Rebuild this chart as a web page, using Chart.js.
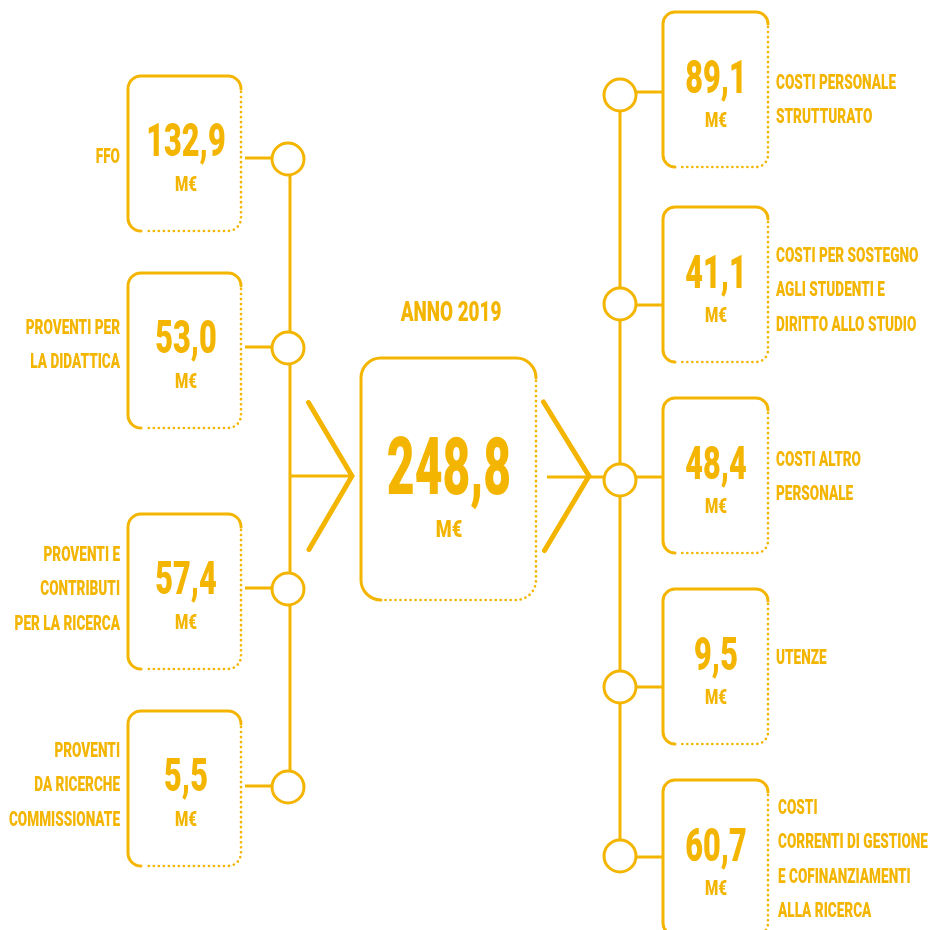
<!DOCTYPE html>
<html>
<head>
<meta charset="utf-8">
<script src="https://cdn.jsdelivr.net/npm/chart.js@4/dist/chart.umd.min.js"></script>
<style>
  html, body { margin: 0; padding: 0; background: #ffffff; }
  #wrap { width: 932px; height: 930px; position: relative; }
</style>
</head>
<body>
<div id="wrap"><canvas id="c"></canvas></div>
<script>
// ---------- DATA ----------
const yearLabel = "ANNO 2019";
const unitLabel = "M€";
const totalValue = 248.8;
const incomeLabels = [
  ["FFO"],
  ["PROVENTI PER", "LA DIDATTICA"],
  ["PROVENTI E", "CONTRIBUTI", "PER LA RICERCA"],
  ["PROVENTI", "DA RICERCHE", "COMMISSIONATE"]
];
const incomeValues = [132.9, 53.0, 57.4, 5.5];
const costLabels = [
  ["COSTI PERSONALE", "STRUTTURATO"],
  ["COSTI PER SOSTEGNO", "AGLI STUDENTI E", "DIRITTO ALLO STUDIO"],
  ["COSTI ALTRO", "PERSONALE"],
  ["UTENZE"],
  ["COSTI", "CORRENTI DI GESTIONE", "E COFINANZIAMENTI", "ALLA RICERCA"]
];
const costValues = [89.1, 41.1, 48.4, 9.5, 60.7];

// ---------- LAYOUT (positions & styles) ----------
const YELLOW = "#F3B500";
const FONT = "Roboto";
const WEIGHT = 900;
const leftLayout = {
  boxL: 128, boxR: 241, boxH: 155, radius: 13,
  boxTops: [76, 273, 514, 711],
  spineX: 290, circleX: 288,
  circleYs: [159, 348, 589, 787],
  labelX: 120, labelYs: [155, 326, 553, 749],
  textX: 186
};
const rightLayout = {
  boxL: 663, boxR: 768, boxH: 155, radius: 12,
  boxTops: [12, 207, 398, 589, 780],
  spineX: 620, circleX: 620,
  circleYs: [95, 304, 480, 687, 856],
  connYs: [92, 305, 477, 687, 857],
  labelXs: [776, 776, 776, 776, 778], labelYs: [81, 254, 458, 656, 806],
  textX: 716
};
const centerLayout = { L: 361, R: 536, T: 358, B: 600, radius: 20, cx: 449, valueY: 466, unitY: 528, yearY: 311, yearX: 451 };
const lineGap = 34.5;

const fmt = v => v.toFixed(1).replace(".", ",");

function lineDs(points, width, extra) {
  return Object.assign({
    type: "line", data: points, showLine: true, borderColor: YELLOW, borderWidth: width,
    pointRadius: 0, fill: false, tension: 0, order: 2, clip: false
  }, extra || {});
}

const datasets = [];
// circles
const circlePts = leftLayout.circleYs.map(y => ({ x: leftLayout.circleX, y }))
  .concat(rightLayout.circleYs.map(y => ({ x: rightLayout.circleX, y })));
datasets.push({
  type: "scatter", data: circlePts, pointRadius: 16, pointHoverRadius: 16,
  pointBackgroundColor: "#ffffff", pointBorderColor: YELLOW, pointBorderWidth: 3,
  order: 0, clip: false
});
// spines
datasets.push(lineDs([{ x: leftLayout.spineX, y: leftLayout.circleYs[0] }, { x: leftLayout.spineX, y: leftLayout.circleYs[leftLayout.circleYs.length - 1] }], 3));
datasets.push(lineDs([{ x: rightLayout.spineX, y: rightLayout.circleYs[0] }, { x: rightLayout.spineX, y: rightLayout.circleYs[rightLayout.circleYs.length - 1] }], 3));
// connectors
incomeValues.forEach((v, i) => {
  const y = leftLayout.circleYs[i] - 1;
  datasets.push(lineDs([{ x: leftLayout.boxR + 4, y }, { x: leftLayout.circleX, y }], 3));
});
costValues.forEach((v, i) => {
  const y = rightLayout.connYs[i];
  datasets.push(lineDs([{ x: rightLayout.circleX, y }, { x: rightLayout.boxL, y }], 3));
});
// flow into / out of the total
datasets.push(lineDs([{ x: leftLayout.spineX, y: 476 }, { x: 352, y: 476 }], 3));
datasets.push(lineDs([{ x: 547, y: 477 }, { x: rightLayout.circleX, y: 477 }], 3));
// chevrons
datasets.push(lineDs([{ x: 308.5, y: 402.5 }, { x: 352, y: 476 }, { x: 309, y: 549.5 }], 5, { borderCapStyle: "round", borderJoinStyle: "miter" }));
datasets.push(lineDs([{ x: 543.5, y: 402 }, { x: 589, y: 476 }, { x: 544.5, y: 550.5 }], 5, { borderCapStyle: "round", borderJoinStyle: "miter" }));

function drawText(ctx, s, x, y, cap, sx, align) {
  const size = cap / 0.711;
  ctx.save();
  ctx.font = WEIGHT + " " + size + "px " + FONT;
  ctx.fillStyle = YELLOW;
  ctx.textAlign = align;
  ctx.textBaseline = "alphabetic";
  ctx.translate(x, y + cap / 2);
  ctx.scale(sx, 1);
  ctx.fillText(s, 0, 0);
  ctx.restore();
}

function drawBox(ctx, L, R, T, B, r) {
  ctx.save();
  ctx.strokeStyle = YELLOW;
  ctx.lineWidth = 3;
  ctx.lineCap = "round";
  ctx.beginPath();
  ctx.moveTo(R, T + r);
  ctx.arcTo(R, T, R - r, T, r);
  ctx.lineTo(L + r, T);
  ctx.arcTo(L, T, L, T + r, r);
  ctx.lineTo(L, B - r);
  ctx.arcTo(L, B, L + r, B, r);
  ctx.stroke();
  ctx.lineWidth = 2.7;
  ctx.setLineDash([0.01, 5]);
  ctx.beginPath();
  ctx.moveTo(R, T + r + 3);
  ctx.lineTo(R, B - r);
  ctx.arcTo(R, B, R - r, B, r);
  ctx.lineTo(L + r + 3, B);
  ctx.stroke();
  ctx.restore();
}

const infoPlugin = {
  id: "info",
  afterDatasetsDraw(chart) {
    const ctx = chart.ctx;
    const xs = chart.scales.x, ys = chart.scales.y;
    const px = v => xs.getPixelForValue(v);
    const py = v => ys.getPixelForValue(v);
    // income boxes
    incomeValues.forEach((v, i) => {
      const T = leftLayout.boxTops[i];
      drawBox(ctx, px(leftLayout.boxL), px(leftLayout.boxR), py(T), py(T + leftLayout.boxH), leftLayout.radius);
      drawText(ctx, fmt(v), px(leftLayout.textX), py(T + 63), 33, 0.66, "center");
      drawText(ctx, unitLabel, px(leftLayout.textX), py(T + 107), 15, 0.72, "center");
      incomeLabels[i].forEach((ln, k) => {
        drawText(ctx, ln, px(leftLayout.labelX), py(leftLayout.labelYs[i] + k * lineGap), 15, 0.645, "right");
      });
    });
    // cost boxes
    costValues.forEach((v, i) => {
      const T = rightLayout.boxTops[i];
      drawBox(ctx, px(rightLayout.boxL), px(rightLayout.boxR), py(T), py(T + rightLayout.boxH), rightLayout.radius);
      drawText(ctx, fmt(v), px(rightLayout.textX), py(T + 64), 33, 0.66, "center");
      drawText(ctx, unitLabel, px(rightLayout.textX), py(T + 107), 15, 0.72, "center");
      costLabels[i].forEach((ln, k) => {
        drawText(ctx, ln, px(rightLayout.labelXs[i]), py(rightLayout.labelYs[i] + k * lineGap), 15, 0.645, "left");
      });
    });
    // total
    const c = centerLayout;
    drawBox(ctx, px(c.L), px(c.R), py(c.T), py(c.B), c.radius);
    drawText(ctx, fmt(totalValue), px(c.cx), py(c.valueY), 56, 0.61, "center");
    drawText(ctx, unitLabel, px(c.cx), py(c.unitY), 17, 0.76, "center");
    drawText(ctx, yearLabel, px(c.yearX), py(c.yearY), 20, 0.67, "center");
  }
};

new Chart(document.getElementById("c"), {
  type: "scatter",
  data: { datasets },
  options: {
    responsive: true,
    maintainAspectRatio: false,
    animation: false,
    events: [],
    layout: { padding: 0, autoPadding: false },
    plugins: { legend: { display: false }, tooltip: { enabled: false } },
    scales: {
      x: { type: "linear", min: 0, max: 932, display: false },
      y: { type: "linear", min: 0, max: 930, reverse: true, display: false }
    }
  },
  plugins: [infoPlugin]
});
</script>
</body>
</html>
